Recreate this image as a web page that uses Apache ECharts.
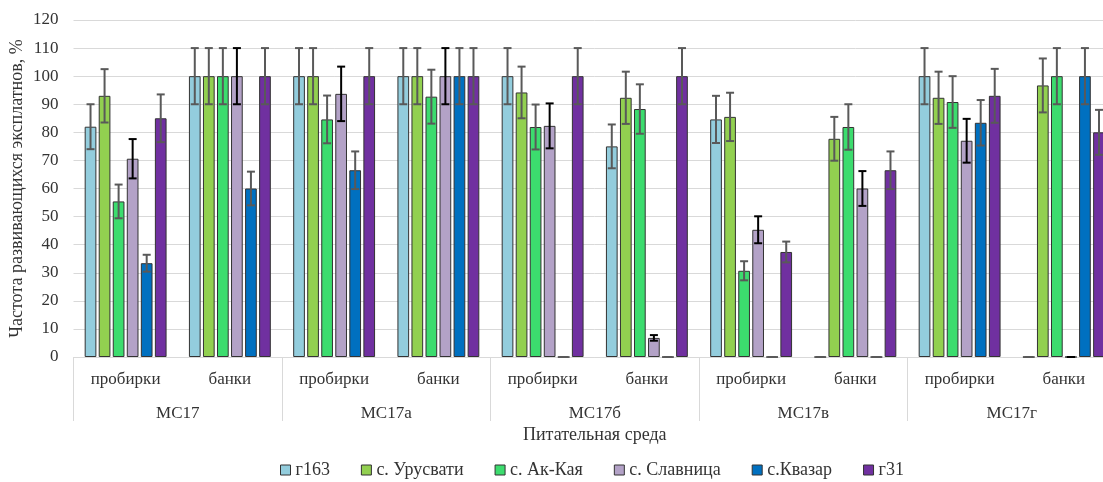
<!DOCTYPE html>
<html><head><meta charset="utf-8">
<script src="https://cdn.jsdelivr.net/npm/echarts@6/dist/echarts.min.js"></script>
<style>html,body{margin:0;padding:0;background:#fff;overflow:hidden}#c{width:1116px;height:482px}</style>
</head><body><div id="c"></div>
<script>
const categories = ['пробирки','банки','пробирки','банки','пробирки','банки','пробирки','банки','пробирки','банки'];
const groups = ['МС17','МС17а','МС17б','МС17в','МС17г'];
const seriesNames = ['г163','с. Урусвати','с. Ак-Кая','с. Славница','с.Квазар','г31'];
const colors = ['#93CDDD','#92D050','#3CDC6E','#B3A2C7','#0070C0','#7030A0'];
const errColors = ['#595959','#595959','#595959','#000000','#595959','#595959'];
const v_g163 = [82, 100, 100, 100, 100, 75, 84.6, 0, 100, 0];
const v_urusvati = [93, 100, 100, 100, 94.2, 92.3, 85.5, 77.7, 92.3, 96.7];
const v_akkaya = [55.4, 100, 84.6, 92.7, 81.9, 88.3, 30.7, 81.9, 90.8, 100];
const v_slavnica = [70.6, 100, 93.7, 100, 82.3, 6.8, 45.3, 60, 77, 0];
const v_kvazar = [33.4, 60, 66.5, 100, 0, 0, 0, 0, 83.4, 100];
const v_g31 = [85, 100, 100, 100, 100, 100, 37.4, 66.5, 93, 80];
const e_g163 = [8, 10, 10, 10, 10, 7.8, 8.4, 0, 10, 0];
const e_urusvati = [9.5, 10, 10, 10, 9.2, 9.3, 8.6, 7.8, 9.3, 9.6];
const e_akkaya = [6, 10, 8.5, 9.6, 8, 8.8, 3.4, 8.1, 9.2, 10];
const e_slavnica = [7, 10, 9.7, 10, 8, 1, 4.8, 6.2, 7.8, 0];
const e_kvazar = [3, 6, 6.7, 10, 0, 0, 0, 0, 8.1, 10];
const e_g31 = [8.5, 10, 10, 10, 10, 10, 3.7, 6.7, 9.6, 8];
const yTicks = {min: 0, max: 120, interval: 10};

const values = [v_g163, v_urusvati, v_akkaya, v_slavnica, v_kvazar, v_g31];
const errors = [e_g163, e_urusvati, e_akkaya, e_slavnica, e_kvazar, e_g31];

const FONT = 'Liberation Serif';
const BAR_W = 11.7, BAR_GAP = 2.34;
const series = [];
values.forEach((vals, k) => {
  series.push({
    name: seriesNames[k], type: 'bar', data: vals, barWidth: BAR_W, barGap: '20%',
    itemStyle: {color: colors[k], borderColor: '#333', borderWidth: 1},
    emphasis: {disabled: true}, z: 2
  });
});
values.forEach((vals, k) => {
  series.push({
    name: 'err' + k, type: 'custom', z: 5,
    data: vals.map((v, i) => [i, v, errors[k][i]]),
    renderItem: function (params, api) {
      const i = api.value(0), v = api.value(1), e = api.value(2);
      const top = api.coord([i, v + e]);
      const bot = api.coord([i, Math.max(0, v - e)]);
      const x = top[0] + (k - 2.5) * (BAR_W + BAR_GAP);
      const st = {stroke: errColors[k], lineWidth: 2};
      const c = 4;
      return {type: 'group', children: [
        {type: 'line', shape: {x1: x, y1: top[1], x2: x, y2: bot[1]}, style: st},
        {type: 'line', shape: {x1: x - c, y1: top[1], x2: x + c, y2: top[1]}, style: st},
        {type: 'line', shape: {x1: x - c, y1: bot[1], x2: x + c, y2: bot[1]}, style: st}
      ]};
    }
  });
});

const chart = echarts.init(document.getElementById('c'));
chart.setOption({
  animation: false,
  textStyle: {fontFamily: FONT},
  grid: {left: 73.5, right: 0, top: 20, bottom: 125, outerBoundsMode: 'none', containLabel: false},
  legend: {
    data: seriesNames, left: 275, bottom: -2, icon: 'rect', itemWidth: 10, itemHeight: 10,
    itemGap: 31, textStyle: {fontFamily: FONT, fontSize: 18, color: '#333'},
    itemStyle: {borderColor: '#333', borderWidth: 1}
  },
  xAxis: [{
    type: 'category', data: categories, position: 'bottom',
    axisLine: {lineStyle: {color: '#d9d9d9', width: 1}},
    axisTick: {show: false},
    axisLabel: {fontFamily: FONT, fontSize: 17, color: '#333', margin: 14, interval: 0},
    name: 'Питательная среда', nameLocation: 'middle', nameGap: 69, nameMoveOverlap: false,
    nameTextStyle: {fontFamily: FONT, fontSize: 18, color: '#333'}
  }, {
    type: 'category', data: groups, position: 'bottom',
    axisLine: {show: false},
    axisTick: {show: true, length: 64, interval: 0, lineStyle: {color: '#d9d9d9', width: 1}},
    axisLabel: {fontFamily: FONT, fontSize: 17, color: '#333', margin: 48, interval: 0}
  }],
  yAxis: {
    type: 'value', min: yTicks.min, max: yTicks.max, interval: yTicks.interval,
    axisLine: {show: false}, axisTick: {show: false},
    splitLine: {lineStyle: {color: '#d9d9d9', width: 1}},
    axisLabel: {fontFamily: FONT, fontSize: 17, color: '#333', margin: 15},
    name: 'Частота развивающихся эксплатнов, %', nameLocation: 'middle', nameGap: 47, nameMoveOverlap: false,
    nameTextStyle: {fontFamily: FONT, fontSize: 18, color: '#333'}
  },
  series: series
});
</script></body></html>
